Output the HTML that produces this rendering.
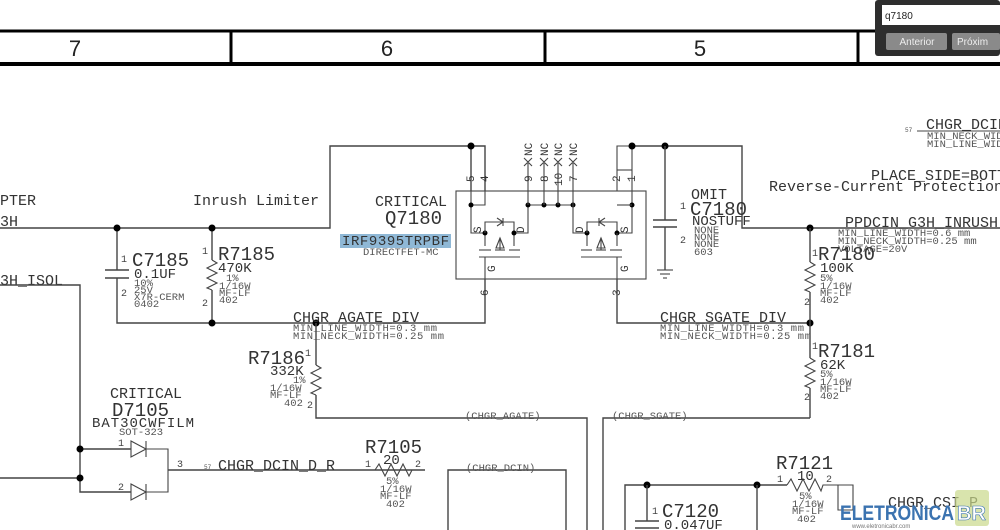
<!DOCTYPE html>
<html><head><meta charset="utf-8"><style>
html,body{margin:0;padding:0;background:#fff;width:1000px;height:530px;overflow:hidden}
svg{display:block}
text{font-family:"Liberation Mono","DejaVu Sans Mono",monospace;fill:#333}
.w{stroke:#444;stroke-width:1.4;fill:none}
.t{stroke:#444;stroke-width:1.1;fill:none}
.s{font-size:10.5px;fill:#555}
.m{font-size:15px}
.v{font-size:14px}
.l{font-size:19px}
.p{font-size:10px;fill:#444}
</style></head><body>
<svg width="1000" height="530" viewBox="0 0 1000 530">
<!-- title bar -->
<line x1="0" y1="31" x2="1000" y2="31" stroke="#000" stroke-width="3"/>
<line x1="0" y1="64" x2="1000" y2="64" stroke="#000" stroke-width="4"/>
<line x1="231" y1="31" x2="231" y2="64" stroke="#000" stroke-width="3"/>
<line x1="545" y1="31" x2="545" y2="64" stroke="#000" stroke-width="3"/>
<line x1="858" y1="31" x2="858" y2="64" stroke="#000" stroke-width="3"/>
<text x="75" y="56" style="font-family:'Liberation Sans',sans-serif;font-size:22px;fill:#222" text-anchor="middle">7</text>
<text x="387" y="56" style="font-family:'Liberation Sans',sans-serif;font-size:22px;fill:#222" text-anchor="middle">6</text>
<text x="700" y="56" style="font-family:'Liberation Sans',sans-serif;font-size:22px;fill:#222" text-anchor="middle">5</text>
<!-- search dialog -->
<rect x="875" y="0" width="125" height="56" fill="#2e2e2e" rx="3"/>
<rect x="882" y="5" width="118" height="20" fill="#fff"/>
<text x="885" y="19" style="font-family:'Liberation Sans',sans-serif;font-size:10px;fill:#222">q7180</text>
<rect x="886" y="33" width="61" height="17" fill="#8a8a8a" rx="2"/>
<text x="917" y="45" text-anchor="middle" style="font-family:'Liberation Sans',sans-serif;font-size:10px;fill:#eee">Anterior</text>
<rect x="952" y="33" width="48" height="17" fill="#8a8a8a" rx="2"/>
<text x="957" y="45" style="font-family:'Liberation Sans',sans-serif;font-size:10px;fill:#eee">Próxim</text>

<!-- top right labels -->
<text x="905" y="132" class="s" style="font-size:6px">57</text>
<line x1="917" y1="131" x2="1000" y2="131" class="t"/>
<text x="926" y="129" class="m">CHGR_DCIN</text>
<text x="927" y="139" class="s">MIN_NECK_WIDTH</text>
<text x="927" y="147" class="s">MIN_LINE_WIDTH</text>
<text x="871" y="180" class="m">PLACE_SIDE=BOTTOM</text>
<text x="769" y="191" class="m">Reverse-Current Protection</text>

<!-- left labels -->
<text x="0" y="205" class="m">PTER</text>
<text x="0" y="226" class="m">3H</text>
<text x="0" y="285" class="m">3H_ISOL</text>
<text x="193" y="205" class="m">Inrush Limiter</text>

<!-- main wires -->
<polyline class="w" points="0,228 330,228 330,146 471,146 485,146 485,191"/>
<line class="w" x1="471" y1="146" x2="471" y2="191"/>
<polyline class="w" points="117,228 117,270"/>
<polyline class="w" points="117,278 117,323 485,323 485,279"/>
<line class="w" x1="212" y1="228" x2="212" y2="260"/>
<line class="w" x1="212" y1="290" x2="212" y2="323"/>
<circle cx="117" cy="228" r="3.5" fill="#000"/>
<circle cx="212" cy="228" r="3.5" fill="#000"/>
<circle cx="212" cy="323" r="3.5" fill="#000"/>
<circle cx="316" cy="323" r="3.5" fill="#000"/>
<circle cx="471" cy="146" r="3.5" fill="#000"/>
<!-- C7185 -->
<line class="w" x1="105" y1="270" x2="129" y2="270"/>
<line class="w" x1="105" y1="278" x2="129" y2="278"/>
<text x="121" y="262" class="p">1</text><text x="121" y="296" class="p">2</text>
<text x="132" y="266" class="l">C7185</text>
<text x="134" y="278" class="v">0.1UF</text>
<text x="134" y="286" class="s">10%</text>
<text x="134" y="293" class="s">25V</text>
<text x="134" y="300" class="s">X7R-CERM</text>
<text x="134" y="307" class="s">0402</text>
<!-- R7185 -->
<polyline class="t" points="212,260 217,263 207,268 217,273 207,278 217,283 207,288 212,290"/>
<text x="202" y="254" class="p">1</text><text x="202" y="306" class="p">2</text>
<text x="218" y="260" class="l">R7185</text>
<text x="218" y="272" class="v">470K</text>
<text x="226" y="281" class="s">1%</text>
<text x="219" y="289" class="s">1/16W</text>
<text x="219" y="296" class="s">MF-LF</text>
<text x="219" y="303" class="s">402</text>
<!-- Q7180 labels -->
<text x="375" y="206" class="m">CRITICAL</text>
<text x="385" y="224" class="l">Q7180</text>
<rect x="340" y="234" width="111" height="14" fill="#8fb8d6"/>
<text x="342" y="245" class="v" textLength="107">IRF9395TRPBF</text>
<text x="363" y="255" class="s">DIRECTFET-MC</text>
<!-- Q box -->
<rect x="456" y="191" width="190" height="88" class="t"/>
<polyline class="t" points="471,191 471,233 485,233 485,246"/>
<polyline class="t" points="485,191 485,205 471,205"/>
<circle cx="471" cy="205" r="2.5" fill="#000"/><circle cx="485" cy="233" r="2.5" fill="#000"/>
<polyline class="t" points="485,233 485,222 514,222 514,246"/>
<polyline class="t" points="514,233 528,233 528,205"/>
<circle cx="514" cy="233" r="2.5" fill="#000"/>
<polyline class="t" points="497,218 503,222 497,226 z"/><line class="t" x1="503" y1="218" x2="503" y2="226"/>
<line class="t" x1="479" y1="250" x2="491" y2="250"/><line class="t" x1="495" y1="250" x2="505" y2="250"/><line class="t" x1="509" y1="250" x2="520" y2="250"/>
<line class="t" x1="479" y1="257" x2="520" y2="257"/>
<polygon class="t" points="500,238 496,248 504,248"/><line class="t" x1="500" y1="238" x2="500" y2="250"/>
<line class="t" x1="485" y1="257" x2="485" y2="279"/>
<!-- NC pins -->
<line class="t" x1="528" y1="205" x2="573" y2="205"/>
<circle cx="528" cy="205" r="2.5" fill="#000"/><circle cx="544" cy="205" r="2.5" fill="#000"/><circle cx="558" cy="205" r="2.5" fill="#000"/><circle cx="573" cy="205" r="2.5" fill="#000"/>
<line class="t" x1="528" y1="162" x2="528" y2="205"/><line class="t" x1="544" y1="162" x2="544" y2="205"/><line class="t" x1="558" y1="162" x2="558" y2="205"/><line class="t" x1="573" y1="162" x2="573" y2="205"/>
<g class="t"><path d="M524,158 l8,8 M532,158 l-8,8 M540,158 l8,8 M548,158 l-8,8 M554,158 l8,8 M562,158 l-8,8 M569,158 l8,8 M577,158 l-8,8"/></g>
<g class="p" style="font-size:11px">
<text transform="translate(532,156) rotate(-90)">NC</text><text transform="translate(548,156) rotate(-90)">NC</text><text transform="translate(562,156) rotate(-90)">NC</text><text transform="translate(577,156) rotate(-90)">NC</text>
<text transform="translate(532,182) rotate(-90)">9</text><text transform="translate(548,182) rotate(-90)">8</text><text transform="translate(562,186) rotate(-90)">10</text><text transform="translate(577,182) rotate(-90)">7</text>
<text transform="translate(474,182) rotate(-90)">5</text><text transform="translate(488,182) rotate(-90)">4</text>
<text transform="translate(620,182) rotate(-90)">2</text><text transform="translate(635,182) rotate(-90)">1</text>
<text transform="translate(488,296) rotate(-90)">6</text><text transform="translate(620,296) rotate(-90)">3</text>
<text transform="translate(481,233) rotate(-90)">S</text><text transform="translate(524,233) rotate(-90)">D</text><text transform="translate(495,272) rotate(-90)">G</text>
<text transform="translate(583,233) rotate(-90)">D</text><text transform="translate(628,233) rotate(-90)">S</text><text transform="translate(628,272) rotate(-90)">G</text>
</g>
<!-- right mosfet -->
<polyline class="t" points="573,205 573,233 587,233 587,246"/>
<circle cx="587" cy="233" r="2.5" fill="#000"/>
<polyline class="t" points="587,233 587,222 617,222 617,233 632,233 632,191"/>
<circle cx="617" cy="233" r="2.5" fill="#000"/>
<circle cx="632" cy="205" r="2.5" fill="#000"/>
<line class="t" x1="617" y1="233" x2="617" y2="246"/>
<polyline class="t" points="617,191 617,146 632,146 632,191"/>
<line class="t" x1="617" y1="170" x2="632" y2="170"/>
<line class="t" x1="617" y1="205" x2="632" y2="205"/>
<polyline class="t" points="605,218 599,222 605,226 z"/><line class="t" x1="599" y1="218" x2="599" y2="226"/>
<line class="t" x1="581" y1="250" x2="592" y2="250"/><line class="t" x1="596" y1="250" x2="606" y2="250"/><line class="t" x1="610" y1="250" x2="622" y2="250"/>
<line class="t" x1="581" y1="257" x2="622" y2="257"/>
<polygon class="t" points="601,238 597,248 605,248"/><line class="t" x1="601" y1="238" x2="601" y2="250"/>
<line class="t" x1="617" y1="257" x2="617" y2="279"/>
<polyline class="w" points="617,279 617,323 810,323"/>
<!-- right top wire -->
<polyline class="w" points="632,146 742,146 742,228 1000,228"/>
<circle cx="632" cy="146" r="3.5" fill="#000"/>
<circle cx="665" cy="146" r="3.5" fill="#000"/>
<circle cx="810" cy="228" r="3.5" fill="#000"/>
<circle cx="810" cy="323" r="3.5" fill="#000"/>
<!-- C7180 -->
<line class="w" x1="665" y1="146" x2="665" y2="220"/>
<line class="w" x1="653" y1="220" x2="677" y2="220"/>
<line class="w" x1="653" y1="227" x2="677" y2="227"/>
<line class="w" x1="665" y1="227" x2="665" y2="270"/>
<line class="t" x1="657" y1="270" x2="673" y2="270"/><line class="t" x1="660" y1="274" x2="670" y2="274"/><line class="t" x1="663" y1="278" x2="667" y2="278"/>
<text x="680" y="209" class="p">1</text><text x="680" y="243" class="p">2</text>
<text x="691" y="199" class="m">OMIT</text>
<text x="690" y="215" class="l">C7180</text>
<text x="692" y="225" class="v">NOSTUFF</text>
<text x="694" y="233" class="s">NONE</text><text x="694" y="240" class="s">NONE</text><text x="694" y="247" class="s">NONE</text><text x="694" y="255" class="s">603</text>
<!-- PPDCIN -->
<text x="845" y="227" class="m">PPDCIN_G3H_INRUSH</text>
<text x="838" y="236" class="s">MIN_LINE_WIDTH=0.6 mm</text>
<text x="838" y="244" class="s">MIN_NECK_WIDTH=0.25 mm</text>
<text x="838" y="252" class="s">VOLTAGE=20V</text>
<!-- R7180 -->
<line class="w" x1="810" y1="228" x2="810" y2="262"/>
<polyline class="t" points="810,262 815,265 805,270 815,275 805,280 815,285 805,290 810,292"/>
<line class="w" x1="810" y1="292" x2="810" y2="323"/>
<text x="812" y="256" class="p">1</text><text x="804" y="305" class="p">2</text>
<text x="818" y="260" class="l">R7180</text>
<text x="820" y="272" class="v">100K</text>
<text x="820" y="281" class="s">5%</text><text x="820" y="289" class="s">1/16W</text><text x="820" y="296" class="s">MF-LF</text><text x="820" y="303" class="s">402</text>
<!-- nets -->
<text x="293" y="322" class="m">CHGR_AGATE_DIV</text>
<text x="293" y="331" class="s" textLength="144">MIN_LINE_WIDTH=0.3 mm</text>
<text x="293" y="339" class="s" textLength="151">MIN_NECK_WIDTH=0.25 mm</text>
<text x="660" y="322" class="m">CHGR_SGATE_DIV</text>
<text x="660" y="331" class="s" textLength="144">MIN_LINE_WIDTH=0.3 mm</text>
<text x="660" y="339" class="s" textLength="151">MIN_NECK_WIDTH=0.25 mm</text>
<!-- R7181 -->
<line class="w" x1="810" y1="323" x2="810" y2="358"/>
<polyline class="t" points="810,358 815,361 805,366 815,371 805,376 815,381 805,386 810,388"/>
<line class="w" x1="810" y1="388" x2="810" y2="418"/>
<polyline class="w" points="810,418 603,418 603,530"/>
<text x="812" y="349" class="p">1</text><text x="804" y="400" class="p">2</text>
<text x="818" y="357" class="l">R7181</text>
<text x="820" y="369" class="v">62K</text>
<text x="820" y="377" class="s">5%</text><text x="820" y="385" class="s">1/16W</text><text x="820" y="392" class="s">MF-LF</text><text x="820" y="399" class="s">402</text>
<text x="612" y="419" class="s">(CHGR_SGATE)</text>
<!-- R7186 -->
<line class="w" x1="316" y1="323" x2="316" y2="365"/>
<polyline class="t" points="316,365 321,368 311,373 321,378 311,383 321,388 311,393 316,395"/>
<polyline class="w" points="316,395 316,418 587,418 587,530"/>
<text x="305" y="356" class="p">1</text><text x="307" y="408" class="p">2</text>
<text x="248" y="364" class="l">R7186</text>
<text x="270" y="375" class="v">332K</text>
<text x="293" y="383" class="s">1%</text><text x="270" y="391" class="s">1/16W</text><text x="270" y="398" class="s">MF-LF</text><text x="284" y="406" class="s">402</text>
<text x="465" y="419" class="s">(CHGR_AGATE)</text>
<!-- left vertical -->
<polyline class="w" points="0,285 80,285 80,492 131,492"/>
<line class="w" x1="0" y1="478" x2="80" y2="478"/>
<line class="w" x1="80" y1="449" x2="131" y2="449"/>
<circle cx="80" cy="449" r="3.5" fill="#000"/>
<circle cx="80" cy="478" r="3.5" fill="#000"/>
<!-- D7105 -->
<polygon class="t" points="131,441 146,449 131,457"/><line class="t" x1="146" y1="441" x2="146" y2="457"/>
<polygon class="t" points="131,484 146,492 131,500"/><line class="t" x1="146" y1="484" x2="146" y2="500"/>
<polyline class="t" points="146,449 168,449 168,492 146,492"/>
<line class="w" x1="168" y1="470" x2="425" y2="470"/>
<text x="118" y="446" class="p">1</text><text x="118" y="490" class="p">2</text><text x="177" y="467" class="p">3</text>
<text x="110" y="398" class="m">CRITICAL</text>
<text x="112" y="416" class="l">D7105</text>
<text x="92" y="427" class="v" textLength="102">BAT30CWFILM</text>
<text x="119" y="435" class="s">SOT-323</text>
<text x="204" y="469" class="s" style="font-size:6px">57</text>
<text x="218" y="470" class="m">CHGR_DCIN_D_R</text>
<!-- R7105 -->
<polyline class="t" points="375,470 379,464 385,476 391,464 397,476 403,464 409,476 412,470"/>
<text x="365" y="467" class="p">1</text><text x="415" y="467" class="p">2</text>
<text x="365" y="453" class="l">R7105</text>
<text x="383" y="464" class="v">20</text>
<text x="386" y="484" class="s">5%</text><text x="380" y="492" class="s">1/16W</text><text x="380" y="499" class="s">MF-LF</text><text x="386" y="507" class="s">402</text>
<!-- CHGR_DCIN box -->
<polyline class="w" points="448,530 448,470 566,470 566,530"/>
<text x="466" y="471" class="s">(CHGR_DCIN)</text>
<!-- R7121 / C7120 -->
<polyline class="w" points="625,530 625,485 787,485"/>
<circle cx="647" cy="485" r="3.5" fill="#000"/>
<circle cx="757" cy="485" r="3.5" fill="#000"/>
<line class="w" x1="757" y1="485" x2="757" y2="530"/>
<line class="w" x1="647" y1="485" x2="647" y2="521"/>
<line class="w" x1="635" y1="521" x2="659" y2="521"/>
<line class="w" x1="635" y1="528" x2="659" y2="528"/>
<text x="652" y="514" class="p">1</text>
<text x="662" y="517" class="l">C7120</text>
<text x="664" y="529" class="v">0.047UF</text>
<polyline class="t" points="787,485 791,479 797,491 803,479 809,491 815,479 821,491 823,485 838,485 838,510 853,510 853,485 838,485"/>
<text x="777" y="482" class="p">1</text><text x="826" y="482" class="p">2</text>
<text x="776" y="469" class="l">R7121</text>
<text x="797" y="480" class="v">10</text>
<text x="799" y="499" class="s">5%</text><text x="792" y="507" class="s">1/16W</text><text x="792" y="514" class="s">MF-LF</text><text x="797" y="522" class="s">402</text>
<text x="888" y="507" class="m">CHGR_CSI_P</text>
<!-- watermark -->
<rect x="955" y="490" width="34" height="36" fill="#c9d98a" opacity="0.7" rx="3"/>
<text x="840" y="520" textLength="114" lengthAdjust="spacingAndGlyphs" style="font-family:'Liberation Sans',sans-serif;font-weight:bold;font-size:21px;fill:#3b73b0">ELETRONICA</text>
<text x="957" y="520" style="font-family:'Liberation Sans',sans-serif;font-weight:bold;font-size:20px;fill:#fff;stroke:#3b73b0;stroke-width:0.6">BR</text>
<text x="852" y="528" style="font-family:'Liberation Sans',sans-serif;font-size:6px;fill:#777">www.eletronicabr.com</text>
</svg>
</body></html>
